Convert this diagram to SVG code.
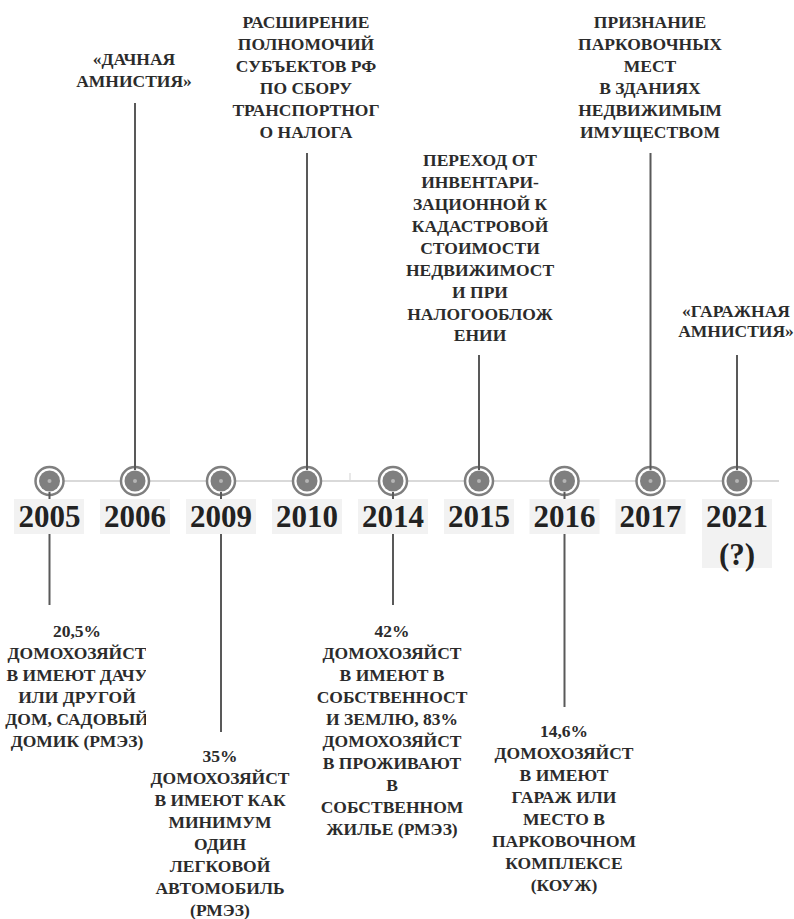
<svg xmlns="http://www.w3.org/2000/svg" width="794" height="919" viewBox="0 0 794 919">
<style>
.t{font-family:"Liberation Serif","DejaVu Serif",serif;font-weight:bold;font-size:17.5px;fill:#2b2b2b;text-anchor:middle}
.y{font-family:"Liberation Serif","DejaVu Serif",serif;font-weight:bold;font-size:31px;fill:#222;text-anchor:middle}
.box{fill:#f2f2f2}
.ring{fill:#fff;stroke:#7f7f7f;stroke-width:2.5}
.dot{fill:#7f7f7f}
.c{fill:#b5b5b5}
.ln{stroke:#595959;stroke-width:2;fill:none}
</style>
<defs>
<g id="mk"><circle class="ring" r="14"/><circle class="dot" r="10.5"/><circle class="c" r="2"/></g>
<clipPath id="clip05"><rect x="0" y="600" width="146" height="200"/></clipPath>
</defs>
<line x1="49" y1="481" x2="779" y2="481" stroke="#d9d9d9" stroke-width="2"/>
<line x1="350" y1="473" x2="350" y2="481" stroke="#d9d9d9" stroke-width="1.2"/>
<g id="markers">
<use href="#mk" x="49.5" y="481"/>
<use href="#mk" x="135" y="481"/>
<use href="#mk" x="221" y="481"/>
<use href="#mk" x="307" y="481"/>
<use href="#mk" x="393" y="481"/>
<use href="#mk" x="479" y="481"/>
<use href="#mk" x="564.5" y="481"/>
<use href="#mk" x="650.5" y="481"/>
<use href="#mk" x="737" y="481"/>
</g>
<g id="connectors">
<line class="ln" x1="49.5" y1="492" x2="49.5" y2="605"/>
<line class="ln" x1="135" y1="103" x2="135" y2="470"/>
<line class="ln" x1="221" y1="492" x2="221" y2="732"/>
<line class="ln" x1="307" y1="153" x2="307" y2="470"/>
<line class="ln" x1="393" y1="492" x2="393" y2="605"/>
<line class="ln" x1="479" y1="355" x2="479" y2="470"/>
<line class="ln" x1="564.5" y1="492" x2="564.5" y2="707"/>
<line class="ln" x1="650.5" y1="153" x2="650.5" y2="470"/>
<line class="ln" x1="737" y1="355" x2="737" y2="470"/>
</g>
<g id="n2005">
<rect class="box" x="14" y="499" width="70" height="35"/>
<text class="y" x="49.5" y="527">2005</text>
<g clip-path="url(#clip05)">
<text class="t" x="77" y="637">20,5%</text>
<text class="t" x="77" y="659">ДОМОХОЗЯЙСТ</text>
<text class="t" x="77" y="681">В ИМЕЮТ ДАЧУ</text>
<text class="t" x="77" y="703">ИЛИ ДРУГОЙ</text>
<text class="t" x="77" y="725">ДОМ, САДОВЫЙ</text>
<text class="t" x="77" y="747">ДОМИК (РМЭЗ)</text>
</g>
</g>
<g id="n2006">
<rect class="box" x="100" y="499" width="70" height="35"/>
<text class="y" x="135" y="527">2006</text>
<text class="t" x="134" y="65">«ДАЧНАЯ</text>
<text class="t" x="134" y="87">АМНИСТИЯ»</text>
</g>
<g id="n2009">
<rect class="box" x="186" y="499" width="70" height="35"/>
<text class="y" x="221" y="527">2009</text>
<text class="t" x="220" y="762">35%</text>
<text class="t" x="220" y="784">ДОМОХОЗЯЙСТ</text>
<text class="t" x="220" y="806">В ИМЕЮТ КАК</text>
<text class="t" x="220" y="828">МИНИМУМ</text>
<text class="t" x="220" y="850">ОДИН</text>
<text class="t" x="220" y="872">ЛЕГКОВОЙ</text>
<text class="t" x="220" y="894">АВТОМОБИЛЬ</text>
<text class="t" x="220" y="916">(РМЭЗ)</text>
</g>
<g id="n2010">
<rect class="box" x="272" y="499" width="70" height="35"/>
<text class="y" x="307" y="527">2010</text>
<text class="t" x="306" y="28">РАСШИРЕНИЕ</text>
<text class="t" x="306" y="50">ПОЛНОМОЧИЙ</text>
<text class="t" x="306" y="72">СУБЪЕКТОВ РФ</text>
<text class="t" x="306" y="94">ПО СБОРУ</text>
<text class="t" x="306" y="116">ТРАНСПОРТНОГ</text>
<text class="t" x="306" y="138">О НАЛОГА</text>
</g>
<g id="n2014">
<rect class="box" x="358" y="499" width="70" height="35"/>
<text class="y" x="393" y="527">2014</text>
<text class="t" x="392" y="637">42%</text>
<text class="t" x="392" y="659">ДОМОХОЗЯЙСТ</text>
<text class="t" x="392" y="681">В ИМЕЮТ В</text>
<text class="t" x="392" y="703">СОБСТВЕННОСТ</text>
<text class="t" x="392" y="725">И ЗЕМЛЮ, 83%</text>
<text class="t" x="392" y="747">ДОМОХОЗЯЙСТ</text>
<text class="t" x="392" y="769">В ПРОЖИВАЮТ</text>
<text class="t" x="392" y="791">В</text>
<text class="t" x="392" y="813">СОБСТВЕННОМ</text>
<text class="t" x="392" y="835">ЖИЛЬЕ (РМЭЗ)</text>
</g>
<g id="n2015">
<rect class="box" x="444" y="499" width="70" height="35"/>
<text class="y" x="479" y="527">2015</text>
<text class="t" x="480" y="166">ПЕРЕХОД ОТ</text>
<text class="t" x="480" y="188">ИНВЕНТАРИ-</text>
<text class="t" x="480" y="210">ЗАЦИОННОЙ К</text>
<text class="t" x="480" y="232">КАДАСТРОВОЙ</text>
<text class="t" x="480" y="254">СТОИМОСТИ</text>
<text class="t" x="480" y="276">НЕДВИЖИМОСТ</text>
<text class="t" x="480" y="298">И ПРИ</text>
<text class="t" x="480" y="320">НАЛОГООБЛОЖ</text>
<text class="t" x="480" y="341">ЕНИИ</text>
</g>
<g id="n2016">
<rect class="box" x="529.5" y="499" width="70" height="35"/>
<text class="y" x="564.5" y="527">2016</text>
<text class="t" x="564" y="737">14,6%</text>
<text class="t" x="564" y="759">ДОМОХОЗЯЙСТ</text>
<text class="t" x="564" y="781">В ИМЕЮТ</text>
<text class="t" x="564" y="803">ГАРАЖ ИЛИ</text>
<text class="t" x="564" y="825">МЕСТО В</text>
<text class="t" x="564" y="847">ПАРКОВОЧНОМ</text>
<text class="t" x="564" y="869">КОМПЛЕКСЕ</text>
<text class="t" x="564" y="891">(КОУЖ)</text>
</g>
<g id="n2017">
<rect class="box" x="615.5" y="499" width="70" height="35"/>
<text class="y" x="650.5" y="527">2017</text>
<text class="t" x="650" y="28">ПРИЗНАНИЕ</text>
<text class="t" x="650" y="50">ПАРКОВОЧНЫХ</text>
<text class="t" x="650" y="72">МЕСТ</text>
<text class="t" x="650" y="94">В ЗДАНИЯХ</text>
<text class="t" x="650" y="116">НЕДВИЖИМЫМ</text>
<text class="t" x="650" y="138">ИМУЩЕСТВОМ</text>
</g>
<g id="n2021">
<rect class="box" x="702" y="499" width="70" height="69"/>
<text class="y" x="737" y="527">2021</text>
<text class="y" x="737" y="565">(?)</text>
<text class="t" x="736" y="317">«ГАРАЖНАЯ</text>
<text class="t" x="736" y="337">АМНИСТИЯ»</text>
</g>
</svg>
